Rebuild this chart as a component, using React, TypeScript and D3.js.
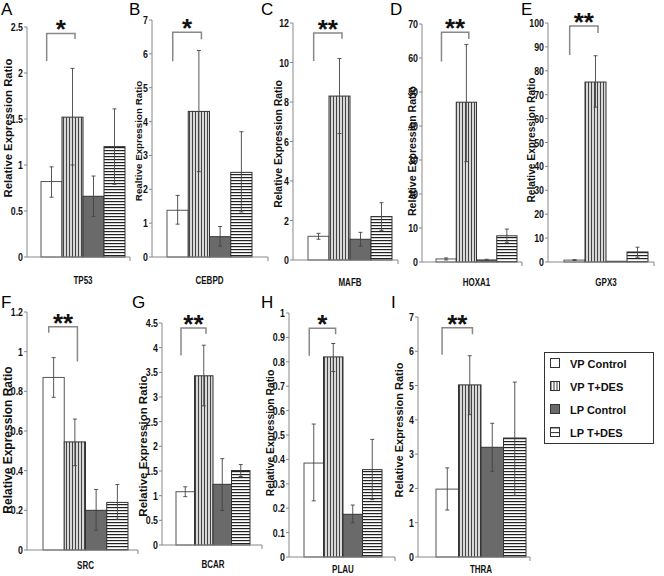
import React from "react";
import * as d3 from "d3";

// ---------- data ----------
const groups = ["VP Control", "VP T+DES", "LP Control", "LP T+DES"];
const genes = ["TP53", "CEBPD", "MAFB", "HOXA1", "GPX3", "SRC", "BCAR", "PLAU", "THRA"];
const letters = ["A", "B", "C", "D", "E", "F", "G", "H", "I"];
const yLabels = [
  "Relative Expression Ratio", "Realtive Expression Ratio", "Relative Expression Ratio",
  "Relative Expression Ratio", "Relative Expression Ratio", "Relative Expression Ratio",
  "Relative Expression Ratio", "Relative Expression Ratio", "Relative Expression Ratio",
];
const yMax = [2.5, 7, 12, 70, 100, 1.2, 4.5, 1, 7];
const yStep = [0.5, 1, 2, 10, 10, 0.2, 0.5, 0.1, 1];

const vpControl = [0.82, 1.38, 1.2, 0.9, 0.8, 0.87, 1.08, 0.385, 1.98];
const vpControlHi = [0.98, 1.82, 1.35, 1.2, 1.0, 0.97, 1.18, 0.545, 2.6];
const vpControlLo = [0.65, 0.97, 1.05, 0.6, 0.6, 0.77, 0.98, 0.23, 1.37];
const vpTdes = [1.52, 4.3, 8.3, 47, 75.3, 0.545, 3.43, 0.82, 5.02];
const vpTdesHi = [2.05, 6.1, 10.2, 64, 86.3, 0.66, 4.05, 0.875, 5.87];
const vpTdesLo = [1.0, 2.52, 6.4, 29.5, 64.8, 0.425, 2.82, 0.76, 4.15];
const lpControl = [0.66, 0.6, 1.05, 0.6, 0.3, 0.2, 1.23, 0.175, 3.2];
const lpControlHi = [0.88, 0.9, 1.4, 0.8, 0.3, 0.305, 1.75, 0.213, 3.9];
const lpControlLo = [0.44, 0.32, 0.7, 0.4, 0.3, 0.1, 0.7, 0.14, 2.5];
const lpTdes = [1.2, 2.5, 2.2, 7.7, 4.2, 0.24, 1.51, 0.358, 3.47];
const lpTdesHi = [1.61, 3.7, 2.9, 9.7, 6.2, 0.33, 1.63, 0.482, 5.1];
const lpTdesLo = [0.79, 1.33, 1.5, 5.8, 2.0, 0.155, 1.39, 0.235, 1.8];

const stars = ["*", "*", "**", "**", "**", "**", "**", "*", "**"];
const bracketTop = [2.43, 6.64, 11.5, 67.6, 98.7, 1.126, 4.4, 0.938, 6.69];
const bracketLeft = [2.13, 5.78, 10.07, 59, 86.6, 1.096, 3.84, 0.825, 5.9];
const bracketRight = [2.37, 6.43, 11.2, 65.6, 95.8, 0.95, 4.28, 0.913, 6.5];

// ---------- layout (pixels) ----------
const layout = [
  { ax: 27, yt: 27, y0: 257, b0: 41, b1: 125, ae: 130, lx: 8, lfs: 11.3, lcy: 128, tx: 1, ty: 15, gy: 284 },
  { ax: 152, yt: 20, y0: 257, b0: 167, b1: 252, ae: 268, lx: 138, lfs: 9.8, lcy: 141, tx: 129, ty: 15, gy: 284 },
  { ax: 293, yt: 23, y0: 260, b0: 308, b1: 392, ae: 398, lx: 278, lfs: 10.4, lcy: 144, tx: 261, ty: 15, gy: 286 },
  { ax: 422, yt: 24, y0: 262, b0: 436, b1: 517, ae: 522, lx: 412, lfs: 10.6, lcy: 151, tx: 390, ty: 15, gy: 286 },
  { ax: 548, yt: 23, y0: 262, b0: 564, b1: 648, ae: 654, lx: 531, lfs: 10.2, lcy: 140, tx: 521, ty: 15, gy: 286 },
  { ax: 27, yt: 312, y0: 550, b0: 43, b1: 128, ae: 138, lx: 8, lfs: 12, lcy: 440, tx: 1, ty: 308, gy: 569 },
  { ax: 162, yt: 323, y0: 545, b0: 176, b1: 250, ae: 262, lx: 143, lfs: 11.5, lcy: 446, tx: 132, ty: 308, gy: 568 },
  { ax: 289, yt: 313, y0: 557, b0: 304, b1: 382, ae: 395, lx: 270, lfs: 10.3, lcy: 433, tx: 261, ty: 308, gy: 573 },
  { ax: 418, yt: 317, y0: 557, b0: 436, b1: 526, ae: 530, lx: 399, lfs: 11, lcy: 430, tx: 391, ty: 308, gy: 573 },
];

const fills = ["#ffffff", "url(#vstripe)", "#6a6a6a", "url(#hstripe)"];
const strokes = ["#555", "#333", "#333", "#333"];

const sans = "'Liberation Sans', Arial, sans-serif";

function Panel({ i }: { i: number }) {
  const L = layout[i];
  const y = d3.scaleLinear().domain([0, yMax[i]]).range([L.y0, L.yt]);
  const x = d3.scaleBand().domain(groups).range([L.b0, L.b1]).padding(0);
  const bw = x.bandwidth();
  const means = [vpControl[i], vpTdes[i], lpControl[i], lpTdes[i]];
  const his = [vpControlHi[i], vpTdesHi[i], lpControlHi[i], lpTdesHi[i]];
  const los = [vpControlLo[i], vpTdesLo[i], lpControlLo[i], lpTdesLo[i]];
  const ticks = d3.range(0, yMax[i] + yStep[i] / 2, yStep[i]);
  const xl = (x(groups[0]) as number) + bw * 0.27;
  const xr = (x(groups[1]) as number) + bw * 0.62;
  const bt = y(bracketTop[i]);
  return (
    <g>
      <text x={L.tx} y={L.ty} fontSize={17} fontFamily={sans}>{letters[i]}</text>
      {groups.map((g, k) => (
        <rect key={g} x={x(g)} y={y(means[k])} width={bw} height={L.y0 - y(means[k])}
          fill={fills[k]} stroke={strokes[k]} strokeWidth={1} />
      ))}
      {groups.map((g, k) => {
        const cx = (x(g) as number) + bw / 2;
        if (his[k] - los[k] < 1e-9) return null;
        return (
          <g key={"e" + g} stroke="#444" strokeWidth={0.9}>
            <line x1={cx} x2={cx} y1={y(his[k])} y2={y(los[k])} />
            <line x1={cx - 2} x2={cx + 2} y1={y(his[k])} y2={y(his[k])} />
            <line x1={cx - 2} x2={cx + 2} y1={y(los[k])} y2={y(los[k])} />
          </g>
        );
      })}
      <line x1={L.ax} x2={L.ax} y1={L.yt} y2={L.y0} stroke="#888" strokeWidth={1} />
      <line x1={L.ax} x2={L.ae} y1={L.y0} y2={L.y0} stroke="#888" strokeWidth={1} />
      <line x1={L.ae} x2={L.ae} y1={L.y0} y2={L.y0 + 4} stroke="#888" strokeWidth={1} />
      {ticks.map((t) => (
        <g key={t}>
          <line x1={L.ax - 3} x2={L.ax} y1={y(t)} y2={y(t)} stroke="#888" strokeWidth={1} />
          <text transform={`translate(${L.ax - 4},${y(t) + 4}) scale(0.8,1)`} fontSize={11}
            fontWeight="bold" textAnchor="end" fontFamily={sans} fill="#111">{String(+t.toFixed(2))}</text>
        </g>
      ))}
      <text transform={`translate(${L.lx + L.lfs * 0.36},${L.lcy}) rotate(-90)`} fontSize={L.lfs}
        fontWeight="bold" textAnchor="middle" fontFamily={sans} fill="#111">{yLabels[i]}</text>
      <text transform={`translate(${(L.b0 + L.b1) / 2},${L.gy}) scale(0.8,1)`} fontSize={10}
        fontWeight="bold" textAnchor="middle" fontFamily={sans} fill="#111">{genes[i]}</text>
      <path d={`M${xl},${y(bracketLeft[i])}V${bt}H${xr}V${y(bracketRight[i])}`} fill="none"
        stroke="#888" strokeWidth={1.5} />
      <text x={(xl + xr) / 2} y={bt + 5} fontSize={26} fontWeight="bold" textAnchor="middle"
        fontFamily={sans} fill="#111">{stars[i]}</text>
    </g>
  );
}

function Legend() {
  const lfills = ["#ffffff", "url(#lvstripe)", "#6a6a6a", "url(#lhstripe)"];
  const ys = [364, 387, 410, 433];
  return (
    <g>
      <rect x={544.5} y={352.5} width={109} height={91} fill="#fff" stroke="#333" strokeWidth={1} />
      {groups.map((g, k) => (
        <g key={g}>
          <rect x={550.5} y={ys[k] - 5.5} width={9} height={9} fill={lfills[k]} stroke="#333" strokeWidth={1} />
          <text x={570} y={ys[k] + 3.5} fontSize={11} fontWeight="bold" fontFamily={sans} fill="#111">{g}</text>
        </g>
      ))}
    </g>
  );
}

export default function App() {
  return (
    <svg width={664} height={576} style={{ position: "absolute", left: 0, top: 0 }}>
      <defs>
        <pattern id="vstripe" patternUnits="userSpaceOnUse" width={3} height={10}>
          <rect width={3} height={10} fill="#d8d8d8" />
          <rect x={0} width={1} height={10} fill="#444" />
        </pattern>
        <pattern id="hstripe" patternUnits="userSpaceOnUse" width={10} height={3}>
          <rect width={10} height={3} fill="#ffffff" />
          <rect y={0} width={10} height={1.2} fill="#222" />
        </pattern>
        <pattern id="lvstripe" patternUnits="userSpaceOnUse" x={550.5} width={3} height={10}>
          <rect width={3} height={10} fill="#fff" />
          <rect x={0} width={1} height={10} fill="#333" />
        </pattern>
        <pattern id="lhstripe" patternUnits="userSpaceOnUse" y={0} width={10} height={4.5}>
          <rect width={10} height={4.5} fill="#fff" />
          <rect y={0} width={10} height={1} fill="#333" />
        </pattern>
      </defs>
      <rect width={664} height={576} fill="#fff" />
      {genes.map((_, i) => <Panel key={i} i={i} />)}
      <Legend />
    </svg>
  );
}
